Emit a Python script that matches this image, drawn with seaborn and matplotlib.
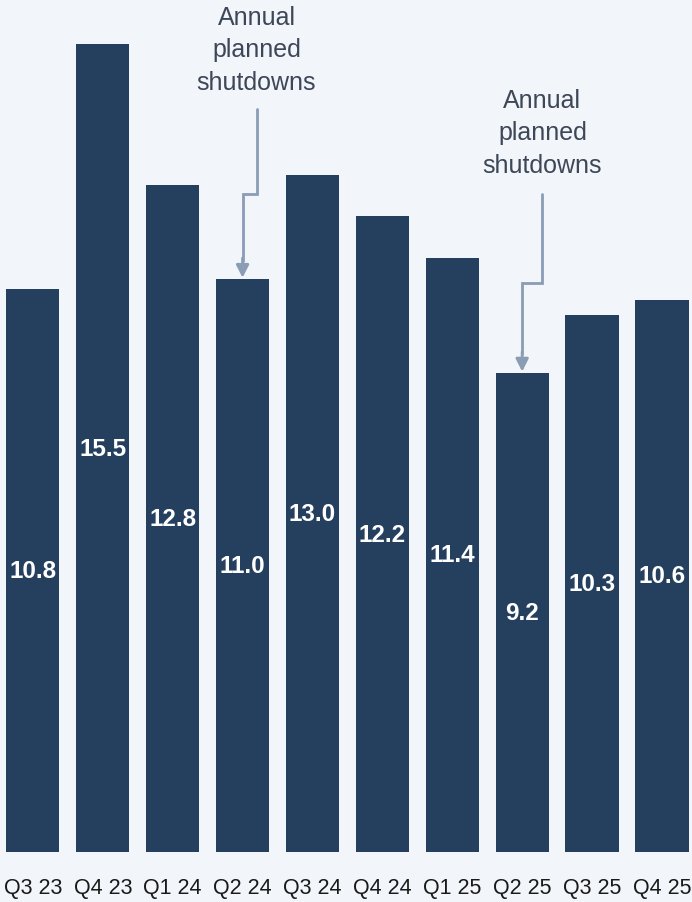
import matplotlib
matplotlib.use("Agg")
import matplotlib.pyplot as plt
import seaborn as sns
import pandas as pd

quarters = ["Q3 23", "Q4 23", "Q1 24", "Q2 24", "Q3 24", "Q4 24", "Q1 25", "Q2 25", "Q3 25", "Q4 25"]
values = [10.8, 15.5, 12.8, 11.0, 13.0, 12.2, 11.4, 9.2, 10.3, 10.6]
annot_text = "Annual\nplanned\nshutdowns"
annot_quarters = ["Q2 24", "Q2 25"]

sns.set_style("white")
plt.rcParams['font.family'] = ['Liberation Sans', 'DejaVu Sans']

bg = "#f2f6fa"
bar_color = "#253f5f"
arrow_color = "#8a9db5"
text_color = "#3d4757"

df = pd.DataFrame({"quarter": quarters, "value": values})

fig = plt.figure(figsize=(6.92, 9.03), dpi=100)
fig.patch.set_facecolor(bg)
ax = fig.add_axes([0, 50 / 903, 1, 853 / 903])
ax.set_facecolor(bg)

sns.barplot(data=df, x="quarter", y="value", color=bar_color, width=0.76,
            saturation=1, ax=ax, edgecolor="none")

ax.set_xlim(-0.47, 9.43)
ax.set_ylim(0, 16.37)
for s in ax.spines.values():
    s.set_visible(False)
ax.set_yticks([])
ax.set_xlabel("")
ax.set_ylabel("")
ax.tick_params(axis="x", length=0, pad=18)
for lbl in ax.get_xticklabels():
    lbl.set_fontsize(15.5)
    lbl.set_color("#1a1a1a")

for i, v in enumerate(values):
    ax.text(i, v / 2, f"{v:.1f}", ha="center", va="center", color="white",
            fontsize=17.5, fontweight="bold")

# per-annotation layout: (x shift of upper segment, start offset, jog offset, text offset)
layouts = [(0.2, 3.26, 1.63, 3.55), (0.29, 3.43, 1.72, 3.76)]
for q, (dx, s_off, j_off, t_off) in zip(annot_quarters, layouts):
    i = quarters.index(q)
    v = values[i]
    x_top = i + dx
    ax.plot([x_top, x_top, i, i], [v + s_off, v + j_off, v + j_off, v + 0.35],
            color=arrow_color, lw=2, solid_joinstyle="miter", clip_on=False)
    ax.annotate("", xy=(i, v + 0.02), xytext=(i, v + 0.4),
                arrowprops=dict(arrowstyle="-|>,head_length=0.75,head_width=0.38",
                                color=arrow_color, lw=2, shrinkA=0, shrinkB=0))
    ax.text(x_top, v + t_off, annot_text, ha="center", va="bottom",
            fontsize=18, color=text_color, linespacing=1.45)

fig.savefig("out.png", dpi=100, facecolor=bg)
